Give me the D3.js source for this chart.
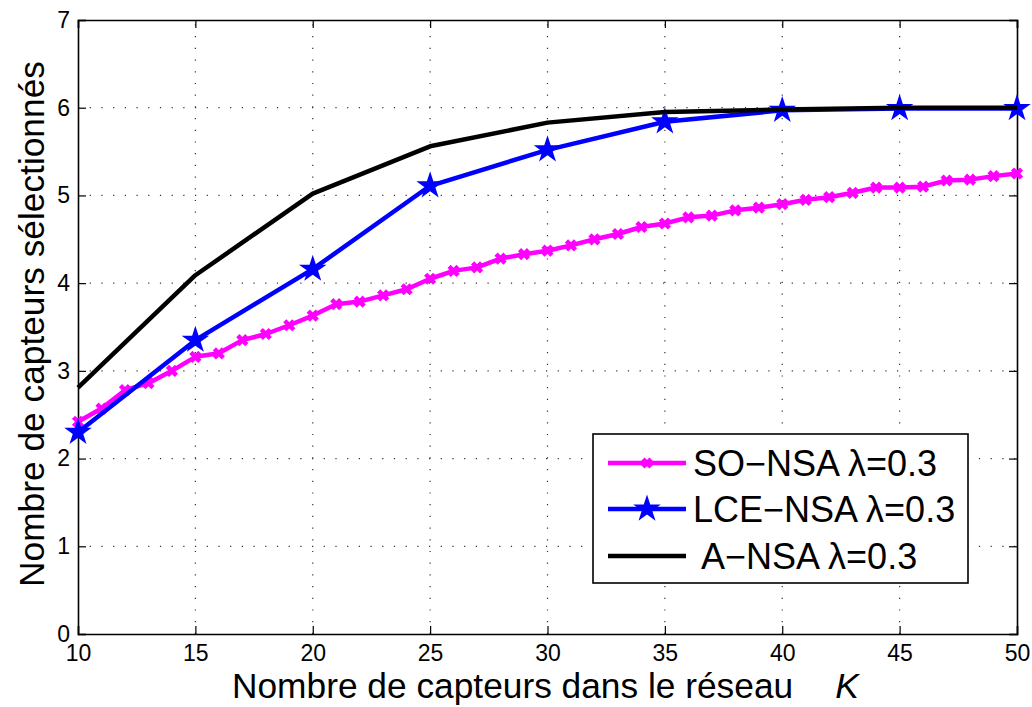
<!DOCTYPE html>
<html>
<head>
<meta charset="utf-8">
<script src="https://cdn.jsdelivr.net/npm/d3@7"></script>
<style>
  html, body { margin: 0; padding: 0; background: #fff; }
  svg { display: block; font-family: "Liberation Sans", Arial, sans-serif; }
</style>
</head>
<body>
<svg id="chart" width="1032" height="707"></svg>
<script>
// Number of sensors in the network
const kAll = d3.range(10, 51);
const kCoarse = [10, 15, 20, 25, 30, 35, 40, 45, 50];

// Selected sensors, SO-NSA (one value per K)
const soNsa = [2.42, 2.57, 2.78, 2.86, 3.00, 3.16, 3.20, 3.35, 3.42, 3.52,
               3.63, 3.76, 3.79, 3.86, 3.93, 4.05, 4.14, 4.18, 4.28, 4.33,
               4.37, 4.43, 4.50, 4.56, 4.64, 4.68, 4.75, 4.77, 4.83, 4.86,
               4.90, 4.95, 4.98, 5.03, 5.09, 5.09, 5.10, 5.17, 5.18, 5.22, 5.25];
// Selected sensors, LCE-NSA
const lceNsa = [2.30, 3.35, 4.16, 5.11, 5.52, 5.84, 5.97, 5.99, 5.99];
// Selected sensors, A-NSA
const aNsa = [2.81, 4.09, 5.02, 5.56, 5.83, 5.95, 5.98, 6.00, 6.00];

const xTicks = [10, 15, 20, 25, 30, 35, 40, 45, 50];
const yTicks = [0, 1, 2, 3, 4, 5, 6, 7];
const legendLabels = ["SO\u2212NSA \u03bb=0.3", "LCE\u2212NSA \u03bb=0.3", " A\u2212NSA \u03bb=0.3"];

const svg = d3.select("#chart");
const m = { left: 78, right: 1017, top: 20, bottom: 634 };

const x = d3.scaleLinear().domain([10, 50]).range([m.left, m.right]);
const y = d3.scaleLinear().domain([0, 7]).range([m.bottom, m.top]);

// dotted grid
const grid = svg.append("g").attr("stroke", "#333").attr("stroke-width", 1.2)
  .attr("stroke-dasharray", "1.2,10.5");
grid.selectAll(".gx").data(xTicks.slice(1, -1)).join("line")
  .attr("x1", d => x(d)).attr("x2", d => x(d))
  .attr("y1", m.bottom).attr("y2", m.top);
grid.selectAll(".gy").data(yTicks.slice(1, -1)).join("line")
  .attr("x1", m.left).attr("x2", m.right)
  .attr("y1", d => y(d)).attr("y2", d => y(d));

// axes with inward ticks
const xAxis = svg.append("g").attr("transform", `translate(0,${m.bottom})`)
  .call(d3.axisBottom(x).tickValues(xTicks).tickSize(-8).tickPadding(11).tickFormat(d3.format("d")));
const xAxisTop = svg.append("g").attr("transform", `translate(0,${m.top})`)
  .call(d3.axisTop(x).tickValues(xTicks).tickSize(-8).tickFormat(""));
const yAxis = svg.append("g").attr("transform", `translate(${m.left},0)`)
  .call(d3.axisLeft(y).tickValues(yTicks).tickSize(-8).tickPadding(8).tickFormat(d3.format("d")));
const yAxisRight = svg.append("g").attr("transform", `translate(${m.right},0)`)
  .call(d3.axisRight(y).tickValues(yTicks).tickSize(-8).tickFormat(""));

[xAxis, xAxisTop, yAxis, yAxisRight].forEach(a => {
  a.select(".domain").attr("stroke", "#000").attr("stroke-width", 1.6);
  a.selectAll(".tick line").attr("stroke", "#000").attr("stroke-width", 1.2);
  a.selectAll("text").attr("font-size", 23).attr("fill", "#000")
    .attr("font-family", "Liberation Sans, Arial, sans-serif");
});

// series
const line = d3.line().x(d => x(d[0])).y(d => y(d[1]));
const soData = kAll.map((k, i) => [k, soNsa[i]]);
const lceData = kCoarse.map((k, i) => [k, lceNsa[i]]);
const aData = kCoarse.map((k, i) => [k, aNsa[i]]);

const plot = svg.append("g");

function crossPath(s) {
  return `M${-s},${-s}L${s},${s}M${-s},${s}L${s},${-s}`;
}
const star = d3.symbol().type(d3.symbolStar).size(235);

// SO-NSA
plot.append("path").datum(soData).attr("d", line)
  .attr("fill", "none").attr("stroke", "#ff00ff").attr("stroke-width", 4.5)
  .attr("stroke-linejoin", "round");
plot.selectAll(".so").data(soData).join("path")
  .attr("transform", d => `translate(${x(d[0])},${y(d[1])})`)
  .attr("d", crossPath(4.5))
  .attr("stroke", "#ff00ff").attr("stroke-width", 4.5).attr("fill", "none");

// LCE-NSA
plot.append("path").datum(lceData).attr("d", line)
  .attr("fill", "none").attr("stroke", "#0000ff").attr("stroke-width", 4.5)
  .attr("stroke-linejoin", "round");
plot.selectAll(".lce").data(lceData).join("path")
  .attr("transform", d => `translate(${x(d[0])},${y(d[1])})`)
  .attr("d", star).attr("fill", "#0000ff");

// A-NSA
plot.append("path").datum(aData).attr("d", line)
  .attr("fill", "none").attr("stroke", "#000").attr("stroke-width", 4.5)
  .attr("stroke-linejoin", "round");

// axis titles
const xTitle = svg.append("text").attr("x", 232).attr("y", 698)
  .attr("font-size", 35.3).attr("fill", "#000");
xTitle.append("tspan").text("Nombre de capteurs dans le réseau");
xTitle.append("tspan").attr("dx", 42).attr("font-style", "italic").text("K");
svg.append("text")
  .attr("transform", "translate(44,324) rotate(-90)")
  .attr("text-anchor", "middle").attr("font-size", 35.3).attr("fill", "#000")
  .text("Nombre de capteurs sélectionnés");

// legend
const lg = svg.append("g");
lg.append("rect").attr("x", 593).attr("y", 434).attr("width", 375).attr("height", 149)
  .attr("fill", "#fff").attr("stroke", "#000").attr("stroke-width", 1.6);
const rowsY = [463, 509, 556];
const colors = ["#ff00ff", "#0000ff", "#000"];
rowsY.forEach((ry, i) => {
  lg.append("line").attr("x1", 608).attr("x2", 686).attr("y1", ry).attr("y2", ry)
    .attr("stroke", colors[i]).attr("stroke-width", 4.5);
  if (i === 0) {
    lg.append("path").attr("transform", `translate(647,${ry})`).attr("d", crossPath(4))
      .attr("stroke", colors[i]).attr("stroke-width", 4.5).attr("fill", "none");
  } else if (i === 1) {
    lg.append("path").attr("transform", `translate(647,${ry})`).attr("d", star)
      .attr("fill", colors[i]);
  }
  lg.append("text").attr("x", 693).attr("y", ry + 13).attr("font-size", 36)
    .attr("fill", "#000").style("white-space", "pre")
    .text(legendLabels[i]);
});
</script>
</body>
</html>
